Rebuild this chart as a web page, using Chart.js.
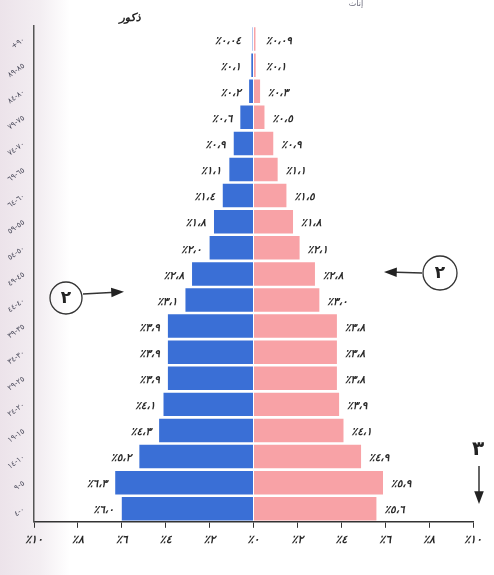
<!DOCTYPE html>
<html lang="ar">
<head>
<meta charset="utf-8">
<script src="https://cdn.jsdelivr.net/npm/chart.js@4"></script>
<style>
  html, body { margin: 0; padding: 0; }
  body {
    width: 494px; height: 575px; overflow: hidden;
    background: linear-gradient(90deg, #ece3ea 0px, #f3eef2 40px, #ffffff 70px);
  }
  canvas { display: block; }
</style>
</head>
<body>
<canvas id="chart" width="494" height="575"></canvas>
<script>
// فئات العمر من الأصغر إلى الأكبر
const fiat = ["٠-٤","٥-٩","١٠-١٤","١٥-١٩","٢٠-٢٤","٢٥-٢٩","٣٠-٣٤","٣٥-٣٩","٤٠-٤٤","٤٥-٤٩",
              "٥٠-٥٤","٥٥-٥٩","٦٠-٦٤","٦٥-٦٩","٧٠-٧٤","٧٥-٧٩","٨٠-٨٤","٨٥-٨٩","+٩٠"];
const dhukur = [6.0, 6.3, 5.2, 4.3, 4.1, 3.9, 3.9, 3.9, 3.1, 2.8, 2.0, 1.8, 1.4, 1.1, 0.9, 0.6, 0.2, 0.1, 0.04];
const inath  = [5.6, 5.9, 4.9, 4.1, 3.9, 3.8, 3.8, 3.8, 3.0, 2.8, 2.1, 1.8, 1.5, 1.1, 0.9, 0.5, 0.3, 0.1, 0.09];
const xTicks = [-10, -8, -6, -4, -2, 0, 2, 4, 6, 8, 10];

const FONT = "'DejaVu Sans', sans-serif";

function toAr(n) {
  const d = "٠١٢٣٤٥٦٧٨٩";
  return String(n).replace(/[0-9]/g, c => d[c]).replace(".", "،");
}
function fmt(v) {
  const s = v < 0.1 ? v.toFixed(2) : v.toFixed(1);
  return "٪" + toAr(s);
}

const barLabels = {
  id: "barLabels",
  afterDatasetsDraw(chart) {
    const ctx = chart.ctx;
    ctx.save();
    ctx.font = "italic bold 10.5px " + FONT;
    ctx.fillStyle = "#2a2a2a";
    ctx.textBaseline = "middle";
    chart.data.datasets.forEach((ds, i) => {
      const meta = chart.getDatasetMeta(i);
      meta.data.forEach((bar, j) => {
        const v = i === 0 ? dhukur[j] : inath[j];
        if (i === 0) {
          ctx.textAlign = "right";
          ctx.fillText(fmt(v), Math.min(bar.x, bar.base - 4) - 8, bar.y + 2);
        } else {
          ctx.textAlign = "left";
          ctx.fillText(fmt(v), Math.max(bar.x, bar.base + 4) + 8, bar.y + 2);
        }
      });
    });
    ctx.restore();
  }
};

function arrow(ctx, x1, y1, x2, y2) {
  const a = Math.atan2(y2 - y1, x2 - x1);
  ctx.beginPath();
  ctx.moveTo(x1, y1);
  ctx.lineTo(x2, y2);
  ctx.stroke();
  ctx.beginPath();
  ctx.moveTo(x2 + Math.cos(a) * 4, y2 + Math.sin(a) * 4);
  ctx.lineTo(x2 - Math.cos(a - 0.5) * 10, y2 - Math.sin(a - 0.5) * 10);
  ctx.lineTo(x2 - Math.cos(a + 0.5) * 10, y2 - Math.sin(a + 0.5) * 10);
  ctx.closePath();
  ctx.fill();
}

const notes = {
  id: "notes",
  afterDraw(chart) {
    const ctx = chart.ctx;
    ctx.save();
    ctx.strokeStyle = "#333";
    ctx.fillStyle = "#222";
    ctx.lineWidth = 1.3;
    ctx.beginPath(); ctx.arc(66, 298, 16, 0, Math.PI * 2); ctx.stroke();
    ctx.beginPath(); ctx.arc(440, 273, 17, 0, Math.PI * 2); ctx.stroke();
    ctx.font = "bold 17px " + FONT;
    ctx.textAlign = "center";
    ctx.textBaseline = "middle";
    ctx.fillText("٢", 66, 299);
    ctx.fillText("٢", 440, 274);
    ctx.font = "bold 20px " + FONT;
    ctx.fillText("٣", 478, 450);
    ctx.lineWidth = 1.5;
    arrow(ctx, 83, 294, 120, 292);
    arrow(ctx, 422, 273, 388, 272);
    arrow(ctx, 479, 466, 479, 500);
    ctx.font = "italic bold 11px " + FONT;
    ctx.fillText("ذكور", 130, 18);
    ctx.font = "8px " + FONT;
    ctx.fillStyle = "#667";
    ctx.fillText("إناث", 356, 4);
    ctx.restore();
  }
};

new Chart(document.getElementById("chart"), {
  type: "bar",
  data: {
    labels: fiat,
    datasets: [
      {
        label: "ذكور",
        data: dhukur.map(v => -v),
        backgroundColor: "#3a6fd6",
        borderWidth: 0,
        barPercentage: 0.9,
        categoryPercentage: 1
      },
      {
        label: "إناث",
        data: inath,
        backgroundColor: "#f8a2a6",
        borderWidth: 0,
        barPercentage: 0.9,
        categoryPercentage: 1
      }
    ]
  },
  options: {
    indexAxis: "y",
    responsive: false,
    devicePixelRatio: 1,
    animation: false,
    layout: { padding: { left: 0, right: 21, top: 26, bottom: 22 } },
    plugins: {
      legend: { display: false },
      tooltip: { enabled: false }
    },
    scales: {
      x: {
        stacked: true,
        min: -10,
        max: 10,
        afterBuildTicks(scale) { scale.ticks = xTicks.map(v => ({ value: v })); },
        grid: { display: true, drawOnChartArea: false, tickLength: 6, color: "#333" },
        border: { display: true, color: "#333", width: 1.5 },
        ticks: {
          color: "#2a2a2a",
          font: { family: FONT, size: 11, style: "italic", weight: "bold" },
          padding: 6,
          callback: v => "٪" + toAr(Math.abs(v))
        }
      },
      y: {
        stacked: true,
        reverse: true,
        position: "left",
        afterFit(scale) { scale.width = 34; },
        grid: { display: false },
        border: { display: true, color: "#555", width: 1.5 },
        ticks: {
          color: "#4a4a5a",
          font: { family: FONT, size: 7.5 },
          minRotation: 35,
          maxRotation: 35,
          padding: 2
        }
      }
    }
  },
  plugins: [barLabels, notes]
});
</script>
</body>
</html>
